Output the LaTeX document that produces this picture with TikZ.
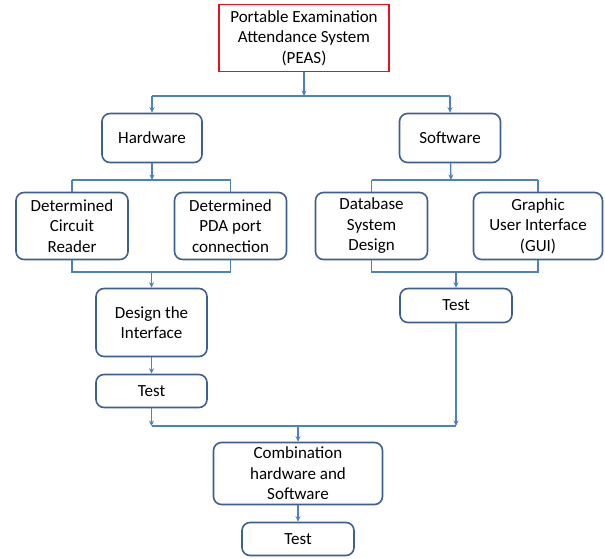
\documentclass[tikz,border=0pt]{standalone}
\usepackage{fontspec}
\setmainfont{Carlito}
\usetikzlibrary{arrows.meta}
\definecolor{boxblue}{RGB}{60,96,143}
\definecolor{lineblue}{RGB}{79,129,189}
\definecolor{peasred}{RGB}{230,20,30}

\begin{document}
\begin{tikzpicture}[x=1pt, y=-1pt,
    >={Stealth[length=5.5pt,width=5pt]},
    every node/.style={font=\fontsize{17}{20.5}\selectfont, align=center, inner sep=0pt},
    stage/.style ={draw=boxblue, line width=1.6pt, rounded corners=8pt, fill=white},
    topbox/.style ={draw=peasred, line width=1.8pt, fill=white},
    link/.style ={draw=lineblue, line width=1.3pt}]
   \useasboundingbox (0,0) rectangle (605,558);
   \node[topbox, minimum width=170pt, minimum height=67pt] (peas) at (304,38) {Portable Examination\\Attendance System\\(PEAS)};
   \node[stage, minimum width=100pt, minimum height=49pt] (hw) at (152,138) {Hardware};
   \node[stage, minimum width=101pt, minimum height=49pt] (sw) at (450,138) {Software};
   \node[stage, minimum width=112pt, minimum height=67pt] (dcr) at (72,226) {Determined\\Circuit\\Reader};
   \node[stage, minimum width=112pt, minimum height=67pt] (pda) at (230.5,226) {Determined\\PDA port\\connection};
   \node[stage, minimum width=112pt, minimum height=67pt] (db) at (371.5,226) {Database\\System\\Design};
   \node[stage, minimum width=129pt, minimum height=67pt] (gui) at (538,226) {Graphic\\User Interface\\(GUI)};
   \node[stage, minimum width=111pt, minimum height=68pt] (dti) at (151.5,322.5) {Design the\\Interface};
   \node[stage, minimum width=111pt, minimum height=33pt] (hwtest) at (151.5,391) {Test};
   \node[stage, minimum width=112pt, minimum height=34pt] (swtest) at (456,305.5) {Test};
   \node[stage, minimum width=169pt, minimum height=62pt] (comb) at (298,473.5) {Combination\\hardware and\\Software};
   \node[stage, minimum width=112pt, minimum height=33pt] (alltest) at (298,539) {Test};
   % bus lines
   \coordinate (topbus) at (304,96);
   \coordinate (hwbus) at (152,180);
   \coordinate (swbus) at (451,180);
   \coordinate (hwjoin) at (151.5,272);
   \coordinate (swjoin) at (456,272);
   \coordinate (endbus) at (298,426);
   \draw[link, ->] (peas) to (topbus);
   \draw[link] (hw.north |- topbus) to (sw.north |- topbus);
   \draw[link, ->] (hw.north |- topbus) to (hw);
   \draw[link, ->] (sw.north |- topbus) to (sw);
   % hardware side
   \draw[link, ->] (hw) to (hwbus);
   \draw[link] (dcr.north |- hwbus) to (pda.north |- hwbus);
   \draw[link] (dcr.north |- hwbus) to (dcr);
   \draw[link] (pda.north |- hwbus) to (pda);
   \draw[link] (dcr) to (dcr.south |- hwjoin) to (pda.south |- hwjoin) to (pda);
   \draw[link, ->] (hwjoin) to (dti);
   \draw[link, ->] (dti) to (hwtest);
   % software side
   \draw[link, ->] (sw) to (swbus);
   \draw[link] (db.north |- swbus) to (gui.north |- swbus);
   \draw[link] (db.north |- swbus) to (db);
   \draw[link] (gui.north |- swbus) to (gui);
   \draw[link] (db) to (db.south |- swjoin) to (gui.south |- swjoin) to (gui);
   \draw[link, ->] (swjoin) to (swtest);
   % combination
   \draw[link, ->] (hwtest) to (hwtest.south |- endbus);
   \draw[link, ->] (swtest) to (swtest.south |- endbus);
   \draw[link] (hwtest.south |- endbus) to (swtest.south |- endbus);
   \draw[link, ->] (endbus) to (comb);
   \draw[link, ->] (comb) to (alltest);
 \end{tikzpicture}
\end{document}
